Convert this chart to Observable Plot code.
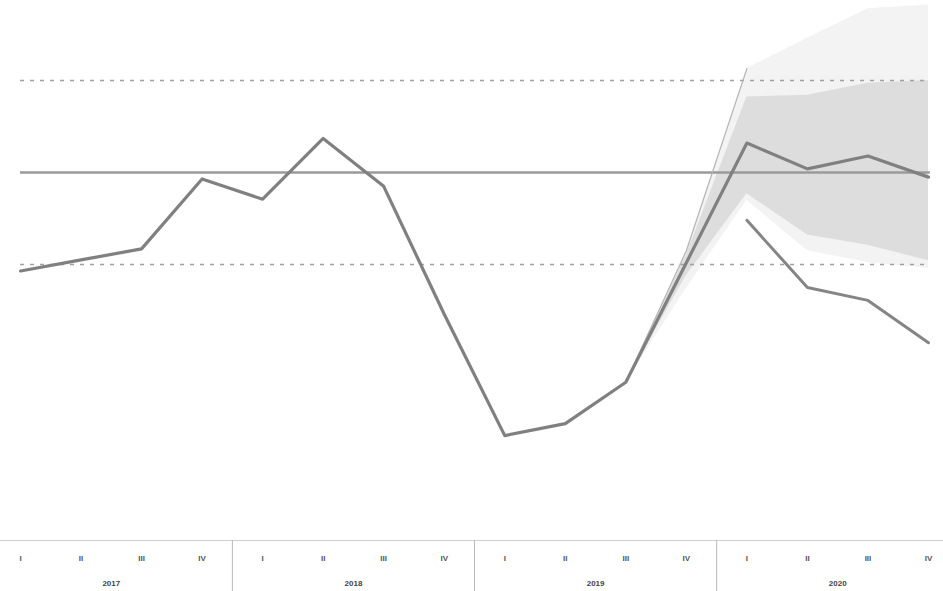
<!DOCTYPE html>
<html>
<head>
<meta charset="utf-8">
<script src="https://cdn.jsdelivr.net/npm/d3@7"></script>
<script src="https://cdn.jsdelivr.net/npm/@observablehq/plot@0.6"></script>
<style>
  html, body { margin: 0; padding: 0; background: #fff; }
  #chart svg { display: block; }
</style>
</head>
<body>
<div id="chart"></div>
<script>
// ---- data ----
const quarterLabels = ["I", "II", "III", "IV"];
const years = ["2017", "2018", "2019", "2020"];
// actual / baseline path, one value per quarter 2017 Q1 .. 2020 Q4
const mainSeries = [2.93, 3.05, 3.17, 3.93, 3.71, 4.37, 3.85, 2.46, 1.14, 1.27, 1.72, 3.02, 4.32, 4.04, 4.18, 3.95];
// alternative forecast, 2020 Q1 .. Q4
const altSeries = [3.48, 2.75, 2.61, 2.15];
// fan bands, 2019 Q3 .. 2020 Q4
const bandIndex = [10, 11, 12, 13, 14, 15];
const innerLow  = [1.72, 2.88, 3.77, 3.32, 3.21, 3.04];
const innerHigh = [1.72, 3.10, 4.82, 4.84, 4.97, 5.00];
const outerLow  = [1.72, 2.74, 3.70, 3.15, 3.02, 2.96];
const outerHigh = [1.72, 3.15, 5.13, 5.46, 5.78, 5.82];
const targetValue = 4;
const targetBand = [3, 5];

// ---- derived tables ----
const mainData = mainSeries.map((v, i) => ({i, v}));
const altData = altSeries.map((v, k) => ({i: 12 + k, v}));
const inner = bandIndex.map((i, k) => ({i, lo: innerLow[k], hi: innerHigh[k]}));
const outer = bandIndex.map((i, k) => ({i, lo: outerLow[k], hi: outerHigh[k]}));
const outerEdge = outer.slice(0, 3);
const quarters = mainSeries.map((_, i) => ({i, label: quarterLabels[i % 4]}));
const yearData = years.map((y, k) => ({i: k * 4 + 1.5, label: y}));

const chart = Plot.plot({
  width: 943,
  height: 591,
  marginTop: 0,
  marginBottom: 51,
  marginLeft: 20,
  marginRight: 15,
  x: {domain: [0, 15], axis: null},
  y: {domain: [0, 5.87], axis: null},
  style: {background: "#fff", fontFamily: "Liberation Sans, Arial, sans-serif"},
  marks: [
    Plot.areaY(outer, {x: "i", y1: "lo", y2: "hi", fill: "#f3f3f4", curve: "linear"}),
    Plot.areaY(inner, {x: "i", y1: "lo", y2: "hi", fill: "#dddddd", curve: "linear"}),
    Plot.ruleY(targetBand, {x1: 0, x2: 15.03, stroke: "#a0a0a0", strokeWidth: 1.5, strokeDasharray: "4,6"}),
    Plot.ruleY([targetValue], {x1: 0, x2: 15.03, stroke: "#9a9a9a", strokeWidth: 2.5}),
    Plot.line(outerEdge, {x: "i", y: "hi", stroke: "#b4b4b4", strokeWidth: 1.2}),
    Plot.line(altData, {x: "i", y: "v", stroke: "#858585", strokeWidth: 3, strokeLinejoin: "round"}),
    Plot.line(mainData, {x: "i", y: "v", stroke: "#808080", strokeWidth: 3.2, strokeLinejoin: "round"}),
    Plot.ruleY([0], {x1: -0.4, x2: 15.3, stroke: "#cfcfcf", strokeWidth: 1}),
    Plot.ruleX([3.5, 7.5, 11.5], {y1: 0, y2: -0.6, stroke: "#b8b8b8", strokeWidth: 1}),
    Plot.text(quarters, {x: "i", y: -0.19, text: "label", fontSize: 8, fontWeight: "bold", fill: "#555"}),
    Plot.text(yearData, {x: "i", y: -0.47, text: "label", fontSize: 8, fontWeight: "bold", fill: "#444"})
  ]
});
document.getElementById("chart").appendChild(chart);
</script>
</body>
</html>
